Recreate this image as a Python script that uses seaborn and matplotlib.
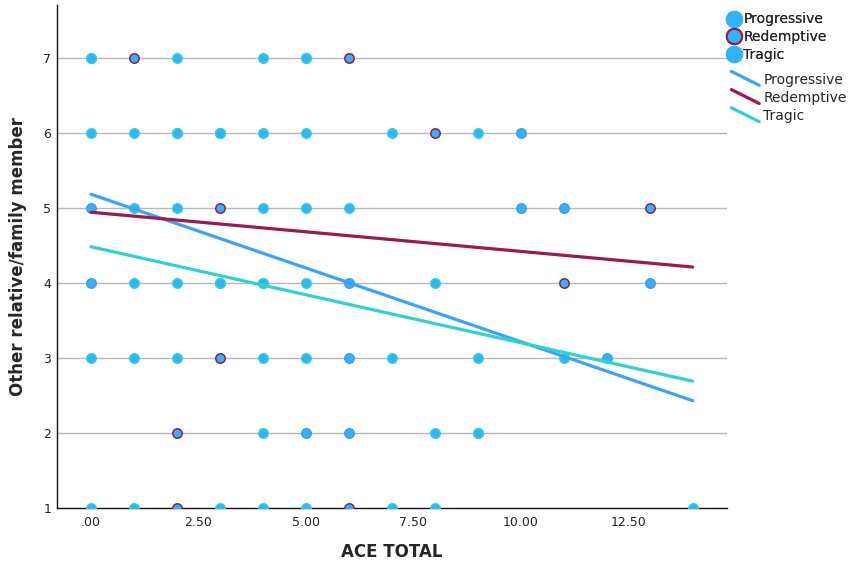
import matplotlib
matplotlib.use("Agg")
import matplotlib.pyplot as plt
from matplotlib.lines import Line2D
from matplotlib.legend_handler import HandlerBase
import seaborn as sns
import pandas as pd

# scatter points per narrative type (ACE TOTAL, rating)
prog_x = [0, 5, 2, 3, 10, 0, 10, 11, 0, 3, 4, 6, 13, 6, 12, 5, 6, 9]
prog_y = [7, 7, 6, 6, 6, 5, 5, 5, 4, 4, 4, 4, 4, 3, 3, 2, 2, 2]

red_x = [1, 6, 8, 3, 13, 11, 3, 2, 2, 6]
red_y = [7, 7, 6, 5, 5, 4, 3, 2, 1, 1]

trag_x = [0, 2, 4, 5,
          0, 1, 2, 3, 4, 5, 7, 9,
          1, 2, 4, 5, 6,
          1, 2, 3, 4, 5, 8,
          0, 1, 2, 4, 5, 7, 9, 11,
          4, 8, 9,
          0, 1, 3, 4, 5, 7, 8, 14]
trag_y = [7, 7, 7, 7,
          6, 6, 6, 6, 6, 6, 6, 6,
          5, 5, 5, 5, 5,
          4, 4, 4, 4, 4, 4,
          3, 3, 3, 3, 3, 3, 3, 3,
          2, 2, 2,
          1, 1, 1, 1, 1, 1, 1, 1]

# fitted lines
fit_x = [0, 14]
prog_fit = [5.18, 2.43]
red_fit = [4.94, 4.21]
trag_fit = [4.48, 2.69]

groups = ["Progressive", "Redemptive", "Tragic"]
x_ticks = [0, 2.5, 5, 7.5, 10, 12.5]
x_tick_labels = [".00", "2.50", "5.00", "7.50", "10.00", "12.50"]
y_ticks = [1, 2, 3, 4, 5, 6, 7]

fill = "#2fb4f7"
edge = {"Progressive": "#3a9ff8", "Redemptive": "#9c1a4f", "Tragic": "#2bd3d0"}
line_col = {"Progressive": "#3aa3fc", "Redemptive": "#9c1a4f", "Tragic": "#2ed4cc"}

points = pd.concat([
    pd.DataFrame({"ace": prog_x, "rel": prog_y, "type": "Progressive"}),
    pd.DataFrame({"ace": trag_x, "rel": trag_y, "type": "Tragic"}),
    pd.DataFrame({"ace": red_x, "rel": red_y, "type": "Redemptive"}),
])
fits = pd.DataFrame({
    "ace": fit_x * 3,
    "rel": prog_fit + red_fit + trag_fit,
    "type": ["Progressive"] * 2 + ["Redemptive"] * 2 + ["Tragic"] * 2,
})

sns.set_style("white")
fig = plt.figure(figsize=(8.48, 5.71), dpi=100)
ax = fig.add_axes([0.0672, 0.1103, 0.7901, 0.8809])

for g in ["Progressive", "Tragic", "Redemptive"]:
    sub = points[points["type"] == g]
    sns.scatterplot(data=sub, x="ace", y="rel", color=fill, edgecolor=edge[g],
                    linewidth=1.1, s=46, ax=ax, zorder=3, legend=False)

sns.lineplot(data=fits, x="ace", y="rel", hue="type", palette=line_col,
             linewidth=2.3, ax=ax, legend=False, zorder=4)

ax.set_xlim(-0.79, 14.8)
ax.set_ylim(1, 7.7)
ax.set_xticks(x_ticks)
ax.set_xticklabels(x_tick_labels)
ax.set_yticks(y_ticks)
ax.tick_params(axis="both", length=0, labelsize=9, colors="#222222")
ax.tick_params(axis="x", pad=6)
ax.tick_params(axis="y", pad=4)
for y in y_ticks[1:]:
    ax.axhline(y, color="#b8b8b8", linewidth=1, zorder=1)
for side in ["top", "right"]:
    ax.spines[side].set_visible(False)
for side in ["left", "bottom"]:
    ax.spines[side].set_color("#111111")
    ax.spines[side].set_linewidth(1)

ax.set_xlabel("ACE TOTAL", fontsize=12, fontweight="bold", labelpad=10)
ax.set_ylabel("Other relative/family member", fontsize=12, fontweight="bold", labelpad=12)


class DiagLine(HandlerBase):
    def create_artists(self, legend, orig_handle, xdescent, ydescent,
                       width, height, fontsize, trans):
        ln = Line2D([-xdescent, width - xdescent],
                    [height - ydescent + 2, -ydescent - 1],
                    color=orig_handle.get_color(), linewidth=orig_handle.get_linewidth(),
                    transform=trans)
        return [ln]


marker_handles = [Line2D([], [], marker="o", linestyle="", markersize=11,
                         markerfacecolor=fill, markeredgecolor=edge[g] if g == "Redemptive" else fill,
                         markeredgewidth=1.5) for g in groups]
line_handles = [Line2D([], [], color=line_col[g], linewidth=2.3) for g in groups]

leg1 = fig.legend(marker_handles, groups, loc="upper left", bbox_to_anchor=(0.853, 0.988),
                  frameon=False, fontsize=10, handlelength=0.8, handletextpad=0.25,
                  labelspacing=0.28, borderaxespad=0)
leg2 = fig.legend(line_handles, groups, loc="upper left", bbox_to_anchor=(0.856, 0.882),
                  frameon=False, fontsize=10, handlelength=2.0, handletextpad=0.3,
                  labelspacing=0.3, borderaxespad=0, handler_map={Line2D: DiagLine()})
fig.add_artist(leg1)

fig.savefig("out.png", dpi=100)
